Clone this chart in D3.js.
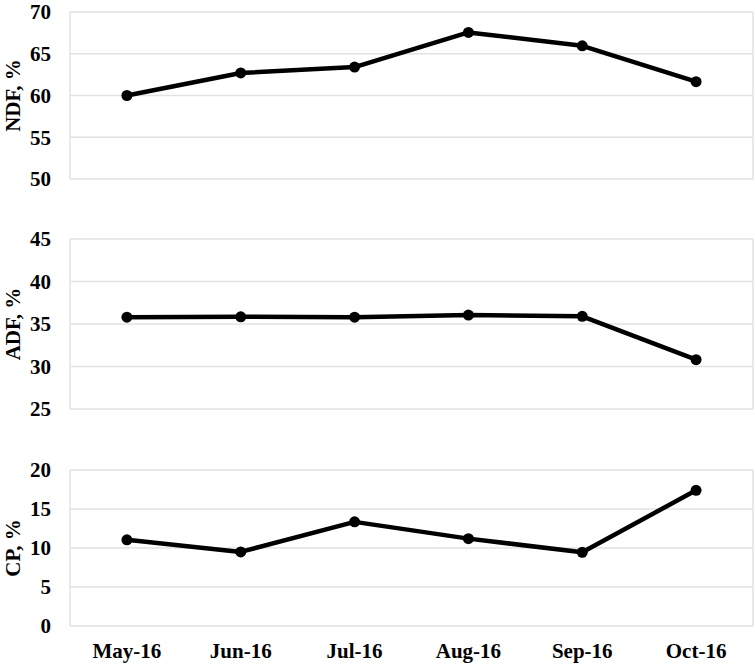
<!DOCTYPE html>
<html>
<head>
<meta charset="utf-8">
<script src="https://cdn.jsdelivr.net/npm/d3@7/dist/d3.min.js"></script>
<style>
  body { margin: 0; background: #fff; }
  text { font-family: "Liberation Serif", "Times New Roman", serif; font-weight: bold; fill: #000; }
</style>
</head>
<body>
<script>
const w = 755;
const h = 667;

// data
const months = ["May-16", "Jun-16", "Jul-16", "Aug-16", "Sep-16", "Oct-16"];
const ndf = [60.0, 62.7, 63.4, 67.55, 65.95, 61.65];
const adf = [35.8, 35.85, 35.8, 36.05, 35.9, 30.8];
const cp = [11.05, 9.5, 13.35, 11.2, 9.45, 17.4];

const ndfTicks = [50, 55, 60, 65, 70];
const adfTicks = [25, 30, 35, 40, 45];
const cpTicks = [0, 5, 10, 15, 20];

const panels = [
  { title: "NDF, %", values: ndf, ticks: ndfTicks, top: 12, bottom: 179 },
  { title: "ADF, %", values: adf, ticks: adfTicks, top: 239, bottom: 409 },
  { title: "CP, %", values: cp, ticks: cpTicks, top: 470, bottom: 626 }
];

const left = 70, right = 753;

var svg = d3.select("body")
  .append("svg")
  .attr("width", w)
  .attr("height", h);

var x = d3.scalePoint()
  .domain(months)
  .range([left, right])
  .padding(0.5);

panels.forEach(function(p) {
  var y = d3.scaleLinear()
    .domain([p.ticks[0], p.ticks[p.ticks.length - 1]])
    .range([p.bottom, p.top]);

  var g = svg.append("g");

  // gridlines
  g.selectAll("line.grid")
    .data(p.ticks)
    .enter()
    .append("line")
    .attr("class", "grid")
    .attr("x1", left)
    .attr("x2", right)
    .attr("y1", d => y(d))
    .attr("y2", d => y(d))
    .style("stroke", "#e2e2e2")
    .style("stroke-width", 1.5);

  // side borders
  [left, right].forEach(function(xx) {
    g.append("line")
      .attr("x1", xx).attr("x2", xx)
      .attr("y1", p.top).attr("y2", p.bottom)
      .style("stroke", "#e2e2e2")
      .style("stroke-width", 1.5);
  });

  // tick labels
  g.selectAll("text.tick")
    .data(p.ticks)
    .enter()
    .append("text")
    .attr("class", "tick")
    .attr("x", 51)
    .attr("y", d => y(d))
    .attr("dy", "0.35em")
    .attr("text-anchor", "end")
    .style("font-size", "21px")
    .text(d => d);

  // axis title
  g.append("text")
    .attr("transform", "translate(20," + ((p.top + p.bottom) / 2) + ") rotate(-90)")
    .attr("text-anchor", "middle")
    .style("font-size", "21px")
    .text(p.title);

  var line = d3.line()
    .x((d, i) => x(months[i]))
    .y(d => y(d));

  g.append("path")
    .datum(p.values)
    .attr("d", line)
    .style("fill", "none")
    .style("stroke", "#000")
    .style("stroke-width", 4.5)
    .style("stroke-linejoin", "round");

  g.selectAll("circle")
    .data(p.values)
    .enter()
    .append("circle")
    .attr("cx", (d, i) => x(months[i]))
    .attr("cy", d => y(d))
    .attr("r", 5.5)
    .style("fill", "#000");
});

// month labels
svg.selectAll("text.month")
  .data(months)
  .enter()
  .append("text")
  .attr("class", "month")
  .attr("x", d => x(d))
  .attr("y", 658)
  .attr("text-anchor", "middle")
  .style("font-size", "21px")
  .text(d => d);
</script>
</body>
</html>
